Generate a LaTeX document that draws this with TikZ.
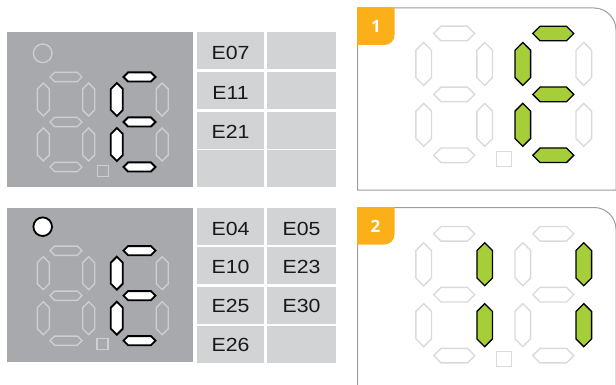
\documentclass[tikz,border=0pt]{standalone}
\usepackage{fontspec}
\setmainfont{Liberation Sans}
\newfontfamily\tabfont[FakeStretch=1.12]{Liberation Sans}
\newfontfamily\numfont{Open Sans}
\definecolor{panelgray}{HTML}{A7A9AC}
\definecolor{cellgray}{HTML}{D1D3D4}
\definecolor{seginner}{HTML}{CDCECF}
\definecolor{seglight}{HTML}{DADADA}
\definecolor{limeseg}{HTML}{A6CE39}
\definecolor{tabors}{HTML}{FBB019}
\definecolor{framegray}{HTML}{9D9D9D}
\tikzset{
  offG/.style={draw=seginner, line width=1.4pt},
  onG/.style={fill=white, draw=black, line width=1.8pt},
  offB/.style={draw=seglight, line width=1.4pt},
  onB/.style={fill=limeseg, draw=black, line width=1.3pt},
  celltxt/.style={anchor=base, inner sep=0pt, font=\tabfont\fontsize{19}{19}\selectfont, text=black!90},
  tabnum/.style={anchor=base, inner sep=0pt, font=\numfont\bfseries\fontsize{17}{17}\selectfont, text=white},
  framebox/.style={draw=framegray, line width=1pt},
}
\newcommand\Hseg[3]{\path[#1] ({#2-\HA},{#3}) -- ({#2-\HA+\HB},{#3-\HB}) -- ({#2+\HA-\HB},{#3-\HB}) -- ({#2+\HA},{#3}) -- ({#2+\HA-\HB},{#3+\HB}) -- ({#2-\HA+\HB},{#3+\HB}) -- cycle;}
\newcommand\Vseg[3]{\path[#1] ({#2},{#3-\VA}) -- ({#2+\VB},{#3-\VA+\VB}) -- ({#2+\VB},{#3+\VA-\VB}) -- ({#2},{#3+\VA}) -- ({#2-\VB},{#3+\VA-\VB}) -- ({#2-\VB},{#3-\VA+\VB}) -- cycle;}
% #1 x, #2 y, #3 a(top) #4 b(upper right) #5 c(lower right) #6 d(bottom) #7 e(lower left) #8 f(upper left) #9 g(middle)
\newcommand\sevdigit[9]{%
  \Hseg{#3}{#1}{#2}%
  \Vseg{#4}{#1+\DX}{#2+\DY}%
  \Vseg{#5}{#1+\DX}{#2+3*\DY}%
  \Hseg{#6}{#1}{#2+4*\DY}%
  \Vseg{#7}{#1-\DX}{#2+3*\DY}%
  \Vseg{#8}{#1-\DX}{#2+\DY}%
  \Hseg{#9}{#1}{#2+2*\DY}%
}
\begin{document}
\begin{tikzpicture}[x=1pt,y=-1pt]
\useasboundingbox (0,0) rectangle (616,385);
\clip (0,0) rectangle (616,385);

% ---------- top-left gray display ----------
\fill[panelgray] (7,32) rectangle (193,187);
\def\HA{16}\def\HB{4.6}\def\VA{16.5}\def\VB{6}\def\DX{22.7}\def\DY{22.5}
\draw[offG] (42.7,53.3) circle[radius=9.3pt];
\sevdigit{66}{77}{offG}{offG}{offG}{offG}{offG}{offG}{offG}
\sevdigit{139.5}{77}{onG}{offG}{offG}{onG}{onG}{onG}{onG}
\draw[offG] (97.5,165.5) rectangle (108.5,176.5);

% top table
\foreach \r/\yt in {0/32,1/72,2/112,3/150}{
  \fill[cellgray] (197,\yt) rectangle (264,\yt+37);
  \fill[cellgray] (267,\yt) rectangle (336,\yt+37);
}
\node[celltxt] (e07) at (230.5,60) {E07};
\node[celltxt] (e11) at (230.5,99.5) {E11};
\node[celltxt] (e21) at (230.5,138.5) {E21};

% ---------- bottom-left gray display ----------
\fill[panelgray] (7,208) rectangle (193,362);
\draw[onG] (42.7,226.7) circle[radius=9.3pt];
\sevdigit{66}{250.7}{offG}{offG}{offG}{offG}{offG}{offG}{offG}
\sevdigit{139.5}{250.7}{onG}{offG}{offG}{onG}{onG}{onG}{onG}
\draw[offG] (97,338.5) rectangle (108,349.5);

% bottom table
\foreach \r/\yt in {0/208,1/247,2/287,3/326}{
  \fill[cellgray] (197,\yt) rectangle (264,\yt+36.5);
  \fill[cellgray] (267,\yt) rectangle (336,\yt+36.5);
}
\node[celltxt] (e04) at (230.5,235) {E04};
\node[celltxt] (e05) at (301.5,235) {E05};
\node[celltxt] (e10) at (230.5,273.5) {E10};
\node[celltxt] (e23) at (301.5,273.5) {E23};
\node[celltxt] (e25) at (230.5,312.5) {E25};
\node[celltxt] (e30) at (301.5,312.5) {E30};
\node[celltxt] (e26) at (230.5,351) {E26};

% ---------- right panel 1 ----------
\draw[framebox] (357.5,8) -- (594,8) arc[start angle=90, end angle=0, radius=22pt] -- (616,190) -- (357.5,190) -- cycle;
\fill[tabors] (357,7.5) -- (394.5,7.5) -- (394.5,35) arc[start angle=0, end angle=-90, radius=10pt] -- (357,45) -- cycle;
\node[tabnum] (n1) at (376,33) {1};
\def\HA{20.5}\def\HB{7.3}\def\VA{21.5}\def\VB{7.8}\def\DX{30.5}\def\DY{30.45}
\sevdigit{454.2}{33.5}{offB}{offB}{offB}{offB}{offB}{offB}{offB}
\sevdigit{553.3}{33.5}{onB}{offB}{offB}{onB}{onB}{onB}{onB}
\draw[offB] (496.7,151.7) rectangle (511.7,166.7);

% ---------- right panel 2 ----------
\draw[framebox] (357.5,390) -- (357.5,207.5) -- (594,207.5) arc[start angle=90, end angle=0, radius=22pt] -- (616,390);
\fill[tabors] (357,207) -- (394.5,207) -- (394.5,234.5) arc[start angle=0, end angle=-90, radius=10pt] -- (357,244.5) -- cycle;
\node[tabnum] (n2) at (375.5,232.5) {2};
\sevdigit{454.2}{233.8}{offB}{onB}{onB}{offB}{offB}{offB}{offB}
\sevdigit{553.3}{233.8}{offB}{onB}{onB}{offB}{offB}{offB}{offB}
\draw[offB] (496.7,351.7) rectangle (511.7,366.7);
\end{tikzpicture}
\end{document}
